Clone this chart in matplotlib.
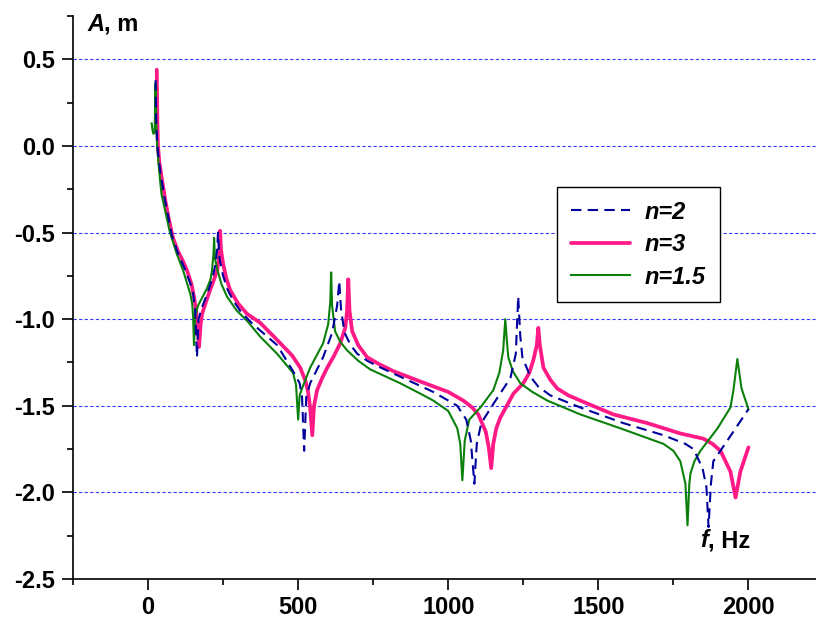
import numpy as np
import matplotlib
matplotlib.use("Agg")
import matplotlib.pyplot as plt
from matplotlib.ticker import MultipleLocator, AutoMinorLocator

plt.rcParams['font.family'] = ['Liberation Sans', 'DejaVu Sans']
plt.rcParams['font.weight'] = 'bold'

# n = 2 (dashed navy)
f_n2 = [25, 26, 28, 32, 40, 55, 80, 100, 120, 140, 150, 157, 163, 168, 180, 200, 215, 225,
        230, 233, 238, 250, 265, 283, 310, 350, 390, 430, 483, 505, 513, 520, 527, 540,
        583, 613, 630, 637, 643, 655, 675, 697, 730, 763, 850, 950, 1030, 1060, 1075,
        1087, 1095, 1110, 1150, 1207, 1225, 1233, 1240, 1247, 1273, 1300, 1340, 1440,
        1583, 1717, 1790, 1817, 1847, 1860, 1867, 1875, 1883, 1930, 2000]
a_n2 = [0.38, 0.25, 0.10, -0.02, -0.14, -0.30, -0.52, -0.62, -0.70, -0.79, -0.85, -0.95,
        -1.22, -1.00, -0.93, -0.84, -0.76, -0.68, -0.60, -0.50, -0.65, -0.75, -0.83,
        -0.89, -0.96, -1.03, -1.09, -1.15, -1.30, -1.37, -1.45, -1.76, -1.45, -1.37,
        -1.22, -1.08, -0.92, -0.78, -0.95, -1.08, -1.15, -1.20, -1.24, -1.27, -1.34,
        -1.42, -1.50, -1.58, -1.70, -1.95, -1.72, -1.60, -1.49, -1.34, -1.20, -0.87,
        -1.10, -1.22, -1.33, -1.39, -1.44, -1.51, -1.60, -1.67, -1.72, -1.75, -1.86,
        -1.97, -2.20, -1.95, -1.82, -1.70, -1.52]

# n = 3 (thick pink)
f_n3 = [29, 30, 31, 33, 38, 45, 57, 70, 83, 100, 115, 130, 145, 153, 160, 165, 170, 175,
        180, 195, 207, 220, 230, 237, 240, 243, 250, 260, 273, 300, 330, 373, 430, 480,
        507, 525, 533, 540, 547, 553, 563, 580, 597, 620, 640, 657, 663, 667, 671, 680,
        700, 730, 770, 817, 907, 1000, 1050, 1080, 1100, 1125, 1135, 1143, 1150, 1160,
        1173, 1195, 1217, 1250, 1270, 1283, 1295, 1300, 1305, 1317, 1340, 1363, 1400,
        1440, 1550, 1663, 1773, 1850, 1880, 1907, 1940, 1957, 1973, 2000]
a_n3 = [0.44, 0.30, 0.15, 0.0, -0.10, -0.18, -0.31, -0.43, -0.53, -0.61, -0.66, -0.72,
        -0.80, -0.87, -0.95, -1.05, -1.16, -1.03, -0.97, -0.89, -0.83, -0.77, -0.72,
        -0.64, -0.49, -0.60, -0.68, -0.76, -0.83, -0.91, -0.97, -1.02, -1.12, -1.21,
        -1.28, -1.36, -1.42, -1.51, -1.67, -1.50, -1.41, -1.34, -1.28, -1.21, -1.14,
        -1.05, -0.95, -0.77, -0.95, -1.07, -1.15, -1.22, -1.26, -1.30, -1.36, -1.42,
        -1.47, -1.51, -1.55, -1.65, -1.74, -1.86, -1.72, -1.63, -1.57, -1.50, -1.43,
        -1.37, -1.31, -1.24, -1.15, -1.05, -1.15, -1.28, -1.35, -1.40, -1.44, -1.47,
        -1.55, -1.60, -1.66, -1.69, -1.72, -1.76, -1.88, -2.03, -1.88, -1.74]

# n = 1.5 (green)
f_n15 = [12, 15, 18, 22, 25, 27, 30, 40, 45, 73, 95, 117, 140, 147, 150, 153, 157, 167,
         197, 208, 213, 218, 220, 223, 230, 245, 263, 295, 330, 373, 430, 483, 493, 500,
         505, 513, 540, 583, 600, 607, 610, 613, 623, 640, 663, 700, 740, 840, 907, 950,
         1000, 1030, 1040, 1047, 1055, 1070, 1107, 1150, 1170, 1183, 1190, 1195, 1200,
         1215, 1240, 1280, 1330, 1440, 1573, 1717, 1750, 1773, 1790, 1797, 1803, 1807,
         1820, 1840, 1897, 1940, 1950, 1963, 1977, 2000]
a_n15 = [0.13, 0.09, 0.07, 0.08, 0.36, 0.15, 0.0, -0.20, -0.28, -0.50, -0.62, -0.72,
         -0.85, -0.91, -0.98, -1.15, -0.98, -0.92, -0.82, -0.77, -0.72, -0.62, -0.53,
         -0.65, -0.71, -0.80, -0.87, -0.95, -1.01, -1.10, -1.20, -1.31, -1.38, -1.58,
         -1.44, -1.40, -1.28, -1.14, -1.03, -0.90, -0.73, -0.92, -1.07, -1.13, -1.18,
         -1.24, -1.29, -1.37, -1.43, -1.47, -1.53, -1.63, -1.72, -1.93, -1.70, -1.58,
         -1.51, -1.41, -1.31, -1.18, -1.00, -1.12, -1.22, -1.30, -1.37, -1.42, -1.47,
         -1.55, -1.63, -1.72, -1.76, -1.82, -1.95, -2.19, -1.95, -1.89, -1.82, -1.76,
         -1.63, -1.51, -1.41, -1.23, -1.40, -1.52]

fig = plt.figure(figsize=(8.16, 6.18), dpi=100)
ax = fig.add_axes([73 / 816, 1 - 579 / 618, 1 - 73 / 816, (579 - 16) / 618])

l3, = ax.plot(f_n3, a_n3, color='#ff1a85', lw=2.7, label='n=3', solid_capstyle='round')
l15, = ax.plot(f_n15, a_n15, color='#0b800b', lw=1.5, label='n=1.5')
l2, = ax.plot(f_n2, a_n2, color='#00009c', lw=1.5, ls=(0, (5, 3)), label='n=2')

ax.set_xlim(-250, 2225)
ax.set_ylim(-2.5, 0.75)
ax.xaxis.set_major_locator(MultipleLocator(500))
ax.xaxis.set_minor_locator(AutoMinorLocator(2))
ax.yaxis.set_major_locator(MultipleLocator(0.5))
ax.yaxis.set_minor_locator(AutoMinorLocator(2))
ax.yaxis.set_major_formatter(plt.FuncFormatter(lambda v, p: f'{v:.1f}'))

for s in ['top', 'right']:
    ax.spines[s].set_visible(False)
for s in ['left', 'bottom']:
    ax.spines[s].set_linewidth(1.2)
ax.tick_params(which='major', length=8, width=1.2, labelsize=17, direction='out')
ax.tick_params(which='minor', length=4, width=1.2, direction='out')
ax.tick_params(axis='y', pad=5)
ax.tick_params(axis='x', pad=4)

ax.grid(axis='y', which='major', color='#3a3aff', lw=0.8, ls=(0, (3, 2)))
ax.set_axisbelow(True)

# axis titles
t1 = ax.text(-203, 0.666, 'A', fontsize=17, fontweight='bold', style='italic', va='baseline')
ax.annotate(', m', xy=(1, 0), xycoords=t1, va='bottom', fontsize=17, fontweight='bold')
t2 = ax.text(1840, -2.316, 'f', fontsize=17, fontweight='bold', style='italic', va='baseline')
ax.annotate(', Hz', xy=(1, 0), xycoords=t2, va='bottom', fontsize=17, fontweight='bold')

leg = ax.legend(handles=[l2, l3, l15], loc='upper left',
                bbox_to_anchor=(557 / 816, 1 - 187 / 618), bbox_transform=fig.transFigure,
                borderaxespad=0, fancybox=False, edgecolor='black', framealpha=1,
                handlelength=2.5, handletextpad=0.65, labelspacing=0.4, borderpad=0.58,
                prop={'size': 17, 'weight': 'bold', 'style': 'italic'})
leg.get_frame().set_linewidth(1.0)

fig.savefig('out.png', dpi=100)
